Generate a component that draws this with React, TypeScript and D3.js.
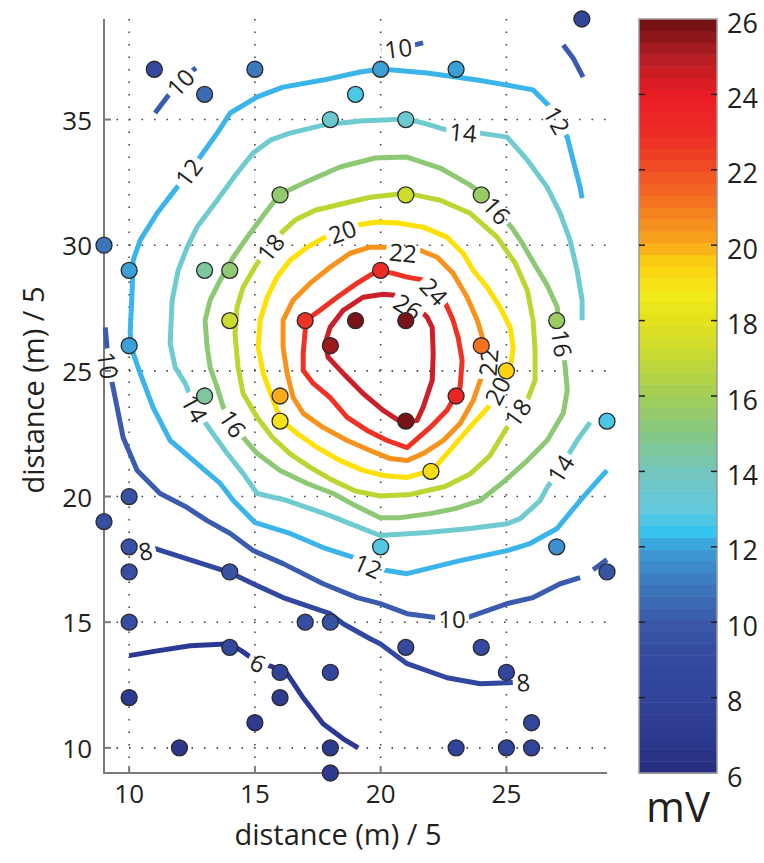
import React from "react";
import * as d3 from "d3";

type P = number[];

const xTicks = [10, 15, 20, 25];
const yTicks = [10, 15, 20, 25, 30, 35];
const cbTicks = [6, 8, 10, 12, 14, 16, 18, 20, 22, 24, 26];
const xTitle = "distance (m) / 5";
const yTitle = "distance (m) / 5";
const unitLabel = "mV";

// electrode positions and measured potential (x, y, mV)
const samples: P[] = [
  [28, 39, 8.4], [11, 37, 9.0], [13, 36, 10.6], [15, 37, 11.0], [20, 37, 12.0], [23, 37, 12.0],
  [19, 36, 12.7], [18, 35, 13.4], [21, 35, 13.5], [9, 30, 10.9], [10, 29, 12.0], [13, 29, 14.5],
  [14, 29, 15.4], [16, 32, 15.5], [21, 32, 17.4], [24, 32, 15.7], [14, 27, 17.2], [10, 26, 12.0],
  [17, 27, 22.8], [19, 27, 25.8], [21, 27, 25.8], [18, 26, 25.3], [20, 29, 23.0], [24, 26, 21.2],
  [25, 25, 19.5], [27, 27, 15.8], [13, 24, 14.5], [16, 24, 20.0], [16, 23, 18.9], [23, 24, 23.5],
  [21, 23, 25.8], [22, 21, 19.1], [29, 23, 12.7], [9, 19, 9.3], [10, 20, 9.6], [10, 18, 9.6],
  [10, 17, 9.4], [14, 17, 9.7], [20, 18, 12.8], [27, 18, 11.6], [29, 17, 9.8], [10, 15, 9.3],
  [17, 15, 9.3], [18, 15, 9.5], [21, 14, 9.0], [24, 14, 9.0], [14, 14, 8.6], [16, 13, 8.0],
  [18, 13, 8.5], [25, 13, 8.5], [10, 12, 7.0], [16, 12, 7.3], [26, 11, 8.5], [15, 11, 7.0],
  [12, 10, 6.8], [18, 10, 7.0], [23, 10, 8.0], [25, 10, 8.0], [26, 10, 8.0], [18, 9, 7.0],
];

// colour map (mV -> colour)
const cmapValues = [6, 7, 8, 9, 10, 11, 12, 12.4, 13, 14, 15, 16, 17, 18, 18.7, 19.5, 20, 21, 22, 23, 24, 25, 26];
const cmapColors = [
  "#262a7c", "#2d3a8f", "#31439a", "#34499f", "#3958a7", "#3c78bb", "#3b9fd8", "#35c4f0",
  "#63c9dc", "#72c6bd", "#85c783", "#a2cd58", "#c4d836", "#e3e21b", "#f4ea1a", "#fcd211",
  "#f9ab19", "#f47a20", "#ef4d24", "#ec2b26", "#e91c24", "#b31d23", "#6b1014",
];

const levels = [6, 8, 10, 12, 14, 16, 18, 20, 22, 24, 26];
const lineColors = [
  "#2b3894", "#3247a0", "#3b5cae", "#3ab4e9", "#6fcbd0", "#8dc974",
  "#bcd531", "#ffe003", "#f7931d", "#ee3325", "#cb1f2a",
];

// contour paths in data units; third value 1 marks an inline label
const contour6: P[][] = [[
  [10.0, 13.67], [11.11, 13.86], [12.43, 14.06], [14.02, 14.14], [14.53, 13.82], [15.13, 13.39, 1],
  [15.69, 13.23], [16.28, 12.95], [16.92, 11.99], [17.71, 10.96], [18.51, 10.36], [19.11, 10.0],
]];
const contour8: P[][] = [[
  [10.64, 17.85, 1], [11.03, 17.93], [12.15, 17.57], [14.02, 16.97], [14.93, 16.53], [16.12, 15.98],
  [17.99, 15.34], [18.51, 14.94], [19.58, 14.34], [19.98, 14.14], [21.05, 13.35], [22.64, 12.79],
  [23.96, 12.55], [25.07, 12.59], [25.67, 12.63, 1],
]];
const contour10: P[][] = [
  [[11.03, 35.26], [11.63, 36.06], [12.03, 36.49, 1], [12.43, 36.89], [12.66, 37.05]],
  [[20.02, 37.76], [20.22, 37.81], [20.70, 37.85, 1], [21.17, 37.93], [21.69, 38.05]],
  [[27.26, 37.97], [27.65, 37.45], [28.05, 36.69]],
  [
    [9.05, 26.73], [9.13, 25.82], [9.17, 25.22, 1], [9.32, 24.54], [9.52, 23.55], [9.76, 22.35],
    [10.32, 21.04], [11.23, 20.12], [12.31, 19.56], [13.10, 19.04], [14.02, 18.53], [14.93, 17.85],
    [16.12, 17.33], [17.71, 16.53], [19.07, 15.98], [19.98, 15.74], [21.05, 15.34], [22.25, 15.18],
    [22.84, 15.14, 1], [23.44, 15.18], [25.03, 15.74], [26.06, 15.98], [27.14, 16.53], [27.93, 16.77],
  ],
  [[28.45, 17.09], [29.0, 17.49]],
];
const contour12: P[][] = [[
  [28.01, 31.87], [27.93, 32.31], [27.65, 33.39], [27.42, 34.30], [27.02, 34.98, 1], [26.74, 35.50],
  [26.06, 36.18], [25.03, 36.37], [23.84, 36.57], [21.85, 36.85], [20.02, 37.01], [19.18, 36.89],
  [17.71, 36.57], [16.12, 36.29], [15.09, 35.90], [14.02, 35.26], [13.50, 34.46], [12.82, 33.51],
  [12.35, 32.91, 1], [11.91, 32.31], [11.11, 31.27], [10.44, 30.20], [10.16, 29.40], [10.12, 28.21],
  [10.04, 26.49], [10.12, 25.82], [10.44, 24.90], [10.95, 23.55], [11.63, 22.23], [12.70, 21.31],
  [13.62, 20.52], [14.14, 19.84], [15.01, 18.96], [16.40, 18.53], [17.71, 17.97], [19.07, 17.53],
  [19.50, 17.25, 1], [20.06, 17.09], [21.05, 16.93], [23.16, 17.45], [25.03, 17.85], [25.94, 18.13],
  [27.02, 18.73], [27.93, 19.84], [28.53, 20.52], [29.0, 21.04],
]];
const contour14: P[][] = [
  [
    [26.62, 20.36], [26.34, 19.84], [25.55, 19.12], [25.03, 18.92], [23.56, 18.73], [21.85, 18.57],
    [19.98, 18.45], [19.18, 18.76], [17.99, 19.24], [16.28, 19.84], [15.09, 20.12], [14.53, 20.92],
    [13.90, 21.71], [13.30, 22.55], [12.62, 23.51, 1], [12.23, 24.50], [11.83, 25.14], [11.63, 26.10],
    [11.71, 27.81], [11.95, 29.0], [12.31, 29.92], [12.70, 30.72], [13.50, 31.79], [14.29, 32.87],
    [14.93, 33.67], [15.61, 34.18], [16.40, 34.46], [17.71, 34.78], [19.18, 34.94], [21.05, 35.02],
    [21.85, 34.82], [22.64, 34.58], [23.28, 34.50, 1], [23.96, 34.46], [25.03, 34.30], [25.83, 33.39],
    [26.62, 32.31], [27.14, 31.27], [27.53, 30.20], [27.81, 29.0], [28.01, 27.81], [28.01, 27.01],
  ],
  [[28.33, 22.95], [27.81, 22.23], [27.14, 21.12, 1], [26.62, 20.36]],
];
const contour16: P[][] = [[
  [27.06, 26.93], [27.22, 26.10, 1], [27.34, 25.14], [27.42, 24.22], [27.26, 23.31], [26.62, 22.23],
  [25.83, 21.43], [24.95, 20.64], [23.96, 19.84], [22.96, 19.52], [21.97, 19.32], [20.78, 19.16],
  [19.98, 19.16], [18.99, 19.64], [18.11, 20.12], [17.08, 20.52], [16.0, 21.04], [15.09, 21.71],
  [14.53, 22.35], [14.14, 22.91, 1], [13.74, 23.55], [13.50, 24.34], [13.22, 25.14], [13.10, 25.94],
  [13.02, 27.01], [13.22, 27.81], [13.62, 28.61], [14.14, 29.52], [14.81, 30.48], [15.49, 31.39],
  [16.0, 32.03], [17.20, 32.59], [18.39, 33.11], [19.78, 33.47], [21.01, 33.51], [22.37, 33.07],
  [23.56, 32.39], [24.0, 32.07], [24.63, 31.39, 1], [25.23, 30.68], [25.63, 30.08], [26.14, 29.20],
  [26.62, 28.41], [27.02, 27.53], [27.06, 26.93],
]];
const contour18: P[][] = [[
  [15.09, 29.28], [15.61, 29.92, 1], [16.08, 30.52], [16.60, 31.0], [17.40, 31.39], [18.39, 31.63],
  [19.58, 31.91], [21.01, 32.07], [22.37, 31.79], [23.56, 31.27], [24.63, 30.32], [25.35, 29.28],
  [25.83, 28.21], [26.06, 27.01], [26.14, 25.82], [26.14, 24.62], [25.86, 23.90], [25.43, 23.35, 1],
  [24.95, 22.63], [24.35, 21.63], [23.56, 20.90], [22.56, 20.40], [21.17, 20.08], [19.98, 20.02],
  [18.99, 20.22], [17.99, 20.70], [17.20, 21.16], [16.40, 21.70], [15.69, 22.36], [15.09, 23.15],
  [14.53, 24.10], [14.33, 25.14], [14.21, 26.49], [14.29, 27.53], [14.53, 28.33], [15.09, 29.28],
]];
const contour20: P[][] = [[
  [17.79, 30.32], [18.47, 30.56, 1], [19.07, 30.80], [19.86, 30.92], [20.66, 30.88], [21.69, 30.72],
  [22.64, 30.32], [23.28, 29.68], [23.68, 29.0], [24.23, 28.33], [24.75, 27.53], [25.15, 26.73],
  [25.27, 25.94], [25.19, 25.34], [24.63, 24.22, 1], [24.27, 23.55], [23.44, 22.63], [22.64, 21.71],
  [22.05, 21.04], [21.05, 20.76], [20.10, 20.84], [19.30, 21.04], [18.39, 21.43], [17.48, 21.95],
  [16.68, 22.51], [16.04, 23.03], [15.73, 23.82], [15.33, 24.90], [15.13, 25.94], [15.21, 27.01],
  [15.49, 27.93], [15.88, 28.73], [16.40, 29.40], [17.08, 29.92], [17.79, 30.32],
]];
const contour22: P[][] = [[
  [20.26, 29.92], [20.89, 29.72, 1], [21.57, 29.80], [22.25, 29.52], [22.88, 28.88], [23.44, 27.93],
  [23.84, 27.01], [24.08, 26.22], [24.27, 25.34, 1], [23.96, 24.62], [23.68, 23.82], [23.16, 22.91],
  [22.49, 22.23], [21.69, 21.71], [21.05, 21.43], [20.38, 21.51], [19.58, 21.83], [18.67, 22.23],
  [17.71, 22.75], [16.92, 23.31], [16.52, 23.94], [16.28, 24.90], [16.12, 25.94], [16.12, 27.01],
  [16.52, 27.81], [17.20, 28.49], [17.99, 29.12], [18.79, 29.68], [19.58, 29.92], [20.26, 29.92],
]];
const contour24: P[][] = [[
  [21.73, 28.61], [22.13, 28.17, 1], [22.56, 27.73], [22.88, 27.01], [23.08, 26.33], [23.24, 25.42],
  [23.16, 24.34], [22.64, 23.43], [21.97, 22.75], [21.05, 21.95], [20.26, 22.23], [19.46, 22.63],
  [18.67, 23.15], [17.99, 23.94], [17.32, 24.50], [16.92, 25.02], [16.92, 25.70], [17.0, 26.61],
  [17.04, 27.01], [17.59, 27.41], [18.27, 27.93], [19.07, 28.49], [19.90, 29.0], [20.50, 28.88],
  [21.05, 28.73], [21.73, 28.61],
]];
const contour26: P[][] = [[
  [20.58, 28.01], [21.09, 27.57, 1], [21.65, 27.33], [21.85, 27.13], [22.05, 26.73], [22.09, 25.70],
  [22.05, 24.62], [21.69, 23.55], [21.45, 23.03], [20.89, 22.91], [20.10, 23.43], [19.30, 24.10],
  [18.51, 24.90], [17.91, 25.54], [17.79, 26.10], [17.99, 26.73], [18.51, 27.41], [19.30, 27.93],
  [20.10, 28.05], [20.58, 28.01],
]];

const contours = [contour6, contour8, contour10, contour12, contour14, contour16, contour18, contour20, contour22, contour24, contour26];

const FONT = "'Open Sans', 'Noto Sans', sans-serif";
const INK = "#231f20";

export default function App() {
  const W = 764, H = 863;
  const x = d3.scaleLinear().domain([9, 29]).range([104, 607]);
  const y = d3.scaleLinear().domain([9, 39]).range([773, 19]);
  const cb = d3.scaleLinear().domain([6, 26]).range([773, 19]);
  const cbX0 = 639, cbX1 = 717;
  const cmap = d3.scaleLinear<string>().domain(cmapValues).range(cmapColors).interpolate(d3.interpolateRgb).clamp(true);
  const line = d3.line<P>().x((d) => x(d[0])).y((d) => y(d[1]));

  const labels: { text: string; cx: number; cy: number; ang: number }[] = [];
  contours.forEach((paths, li) =>
    paths.forEach((path) =>
      path.forEach((p, i) => {
        if (!p[2]) return;
        const a = path[Math.max(0, i - 1)], b = path[Math.min(path.length - 1, i + 1)];
        let ang = (Math.atan2(y(b[1]) - y(a[1]), x(b[0]) - x(a[0])) * 180) / Math.PI;
        if (ang > 90) ang -= 180;
        if (ang < -90) ang += 180;
        labels.push({ text: String(levels[li]), cx: x(p[0]), cy: y(p[1]), ang });
      })
    )
  );

  const nBands = 64;
  const bands = d3.range(nBands).map((i) => 6 + (i * 20) / nBands);
  const step = 20 / nBands;

  return (
    <svg width={W} height={H} style={{ position: "absolute", left: 0, top: 0, background: "#fff" }} fontFamily={FONT}>
      <defs>
        <mask id="gaps" maskUnits="userSpaceOnUse" x={0} y={0} width={W} height={H}>
          <rect width={W} height={H} fill="white" />
          {labels.map((l, i) => {
            const w = l.text.length * 13 + 8;
            return <rect key={i} x={-w / 2} y={-11} width={w} height={22} fill="black" transform={`translate(${l.cx},${l.cy}) rotate(${l.ang})`} />;
          })}
        </mask>
      </defs>

      {/* dotted grid */}
      <g stroke="#444" strokeWidth={1.6} strokeDasharray="1.6 10.9">
        {xTicks.map((t) => <line key={"gx" + t} x1={x(t)} x2={x(t)} y1={y(39)} y2={y(9)} />)}
        {yTicks.map((t) => <line key={"gy" + t} x1={x(9)} x2={x(29)} y1={y(t)} y2={y(t)} />)}
      </g>

      {/* axes */}
      <g stroke="#7a7a7a" strokeWidth={2}>
        <line x1={x(9)} x2={x(9)} y1={y(39)} y2={y(9) + 1} />
        <line x1={x(9) - 1} x2={x(29)} y1={y(9)} y2={y(9)} />
        {xTicks.map((t) => <line key={"tx" + t} x1={x(t)} x2={x(t)} y1={y(9)} y2={y(9) - 7} />)}
        {yTicks.map((t) => <line key={"ty" + t} x1={x(9)} x2={x(9) + 7} y1={y(t)} y2={y(t)} />)}
      </g>
      <g fill={INK} fontSize={26}>
        {xTicks.map((t) => <text key={"lx" + t} x={x(t)} y={803} textAnchor="middle">{t}</text>)}
        {yTicks.map((t) => <text key={"ly" + t} x={92} y={y(t)} textAnchor="end" dominantBaseline="central">{t}</text>)}
      </g>
      <text x={338} y={845} textAnchor="middle" fontSize={29} fill={INK}>{xTitle}</text>
      <text transform={`translate(32,390) rotate(-90)`} textAnchor="middle" dominantBaseline="central" fontSize={29} fill={INK}>{yTitle}</text>

      {/* contour lines */}
      <g mask="url(#gaps)" fill="none" strokeWidth={5} strokeLinejoin="round">
        {contours.map((paths, li) =>
          paths.map((path, pi) => <path key={li + "-" + pi} d={line(path) || ""} stroke={lineColors[li]} />)
        )}
      </g>
      <g fill={INK} fontSize={24} textAnchor="middle">
        {labels.map((l, i) => (
          <text key={i} transform={`translate(${l.cx},${l.cy}) rotate(${l.ang})`} dominantBaseline="central">{l.text}</text>
        ))}
      </g>

      {/* samples */}
      <g stroke="#2a2a2a" strokeWidth={1.3}>
        {samples.map((s, i) => <circle key={i} cx={x(s[0])} cy={y(s[1])} r={8} fill={cmap(s[2])} />)}
      </g>

      {/* colour bar */}
      <g>
        {bands.map((v, i) => (
          <rect key={i} x={cbX0} width={cbX1 - cbX0} y={cb(v + step)} height={cb(v) - cb(v + step) + 0.5} fill={cmap(v + step / 2)} />
        ))}
        <rect x={cbX0} y={cb(26)} width={cbX1 - cbX0} height={cb(6) - cb(26)} fill="none" stroke="#9a9a9a" strokeWidth={1.5} />
        <g stroke="#231f20" strokeWidth={1.5}>
          {cbTicks.slice(1, -1).map((t) => (
            <g key={"ct" + t}>
              <line x1={cbX0} x2={cbX0 + 6} y1={cb(t)} y2={cb(t)} />
              <line x1={cbX1 - 6} x2={cbX1} y1={cb(t)} y2={cb(t)} />
            </g>
          ))}
        </g>
        <g fill={INK} fontSize={27}>
          {cbTicks.map((t) => <text key={"cl" + t} x={727} y={cb(t) + 3} dominantBaseline="central">{t}</text>)}
        </g>
        <text x={678} y={822} textAnchor="middle" fontSize={42} fill={INK}>{unitLabel}</text>
      </g>
    </svg>
  );
}
